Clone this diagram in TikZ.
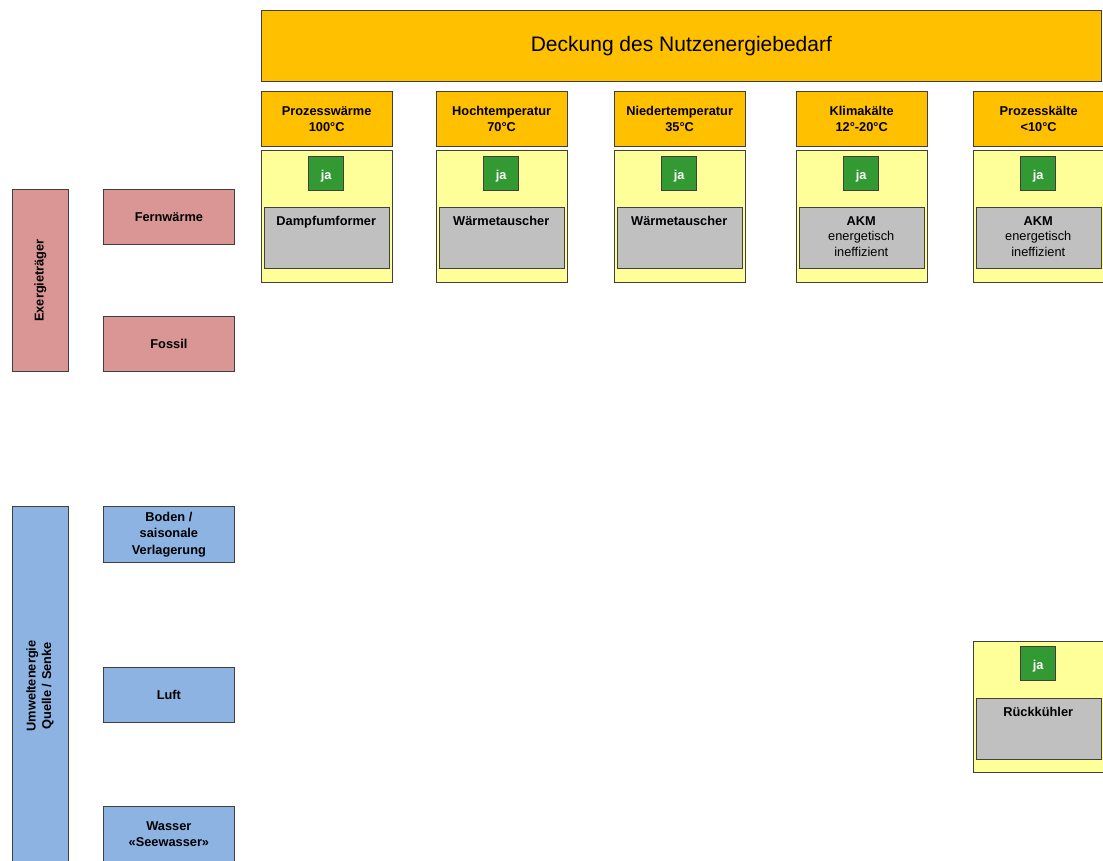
\documentclass[tikz,border=0pt]{standalone}
\usepackage{fontspec}
\setmainfont{Liberation Sans}
\newcommand\boxfont{\fontsize{12.8}{15.5}\selectfont}
\definecolor{hdrorange}{HTML}{FFC000}
\definecolor{paleyellow}{HTML}{FFFF99}
\definecolor{okgreen}{HTML}{339933}
\definecolor{techgray}{HTML}{C0C0C0}
\definecolor{exred}{HTML}{D99694}
\definecolor{envblue}{HTML}{8DB3E2}
\definecolor{edge}{HTML}{404040}
\begin{document}
\begin{tikzpicture}[x=1pt,y=-1pt,
  box/.style={draw=edge,line width=0.8pt,anchor=north west,inner sep=0pt,
              align=center,font=\boxfont\bfseries},
  hdr/.style={box,fill=hdrorange,minimum width=130.5pt,minimum height=55pt},
  panel/.style={box,fill=paleyellow,minimum width=130.5pt,minimum height=131.5pt},
  okbox/.style={draw=edge,line width=0.8pt,fill=okgreen,minimum width=35pt,
                minimum height=34pt,inner sep=0pt,text=white,text height=12.4pt,
                text depth=0pt,font=\boxfont\bfseries},
  techbox/.style={box,fill=techgray,minimum width=125.5pt,minimum height=61pt},
  techtext/.style={anchor=north,inner sep=0pt,align=center,font=\boxfont},
  redbox/.style={box,fill=exred},
  bluebox/.style={box,fill=envblue},
  side/.style={minimum width=131pt},
  bar/.style={minimum width=56pt}]
\useasboundingbox (0,0) rectangle (1103,861);
\clip (0,0) rectangle (1103,861);
\fill[white] (0,0) rectangle (1103,861);

% overall demand
\node[box,fill=hdrorange,minimum width=840pt,minimum height=71pt,
      font=\fontsize{21}{25}\selectfont] (title) at (261,10) {Deckung des Nutzenergiebedarf};

% demand columns: header, panel, approval mark, technology
\foreach \i/\x/\head/\tech in {
   1/261/{Prozesswärme\\100°C}/{\textbf{Dampfumformer}},
   2/436/{Hochtemperatur\\70°C}/{\textbf{Wärmetauscher}},
   3/614/{Niedertemperatur\\35°C}/{\textbf{Wärmetauscher}},
   4/796/{Klimakälte\\12°-20°C}/{\textbf{AKM}\\energetisch\\ineffizient},
   5/973/{Prozesskälte\\<10°C}/{\textbf{AKM}\\energetisch\\ineffizient}} {
  \node[hdr] (h\i) at (\x,91) {\head};
  \node[panel] (p\i) at (\x,150) {};
  \node[okbox] (ok\i) at (\x+65.25,173) {ja};
  \node[techbox] (t\i) at (\x+2.5,207) {};
  \node[techtext] (tt\i) at (\x+65.25,216) {\tech};
}

% re-cooling panel under process cooling
\node[panel,minimum height=130.5pt] (pr) at (973,641) {};
\node[okbox] (okr) at (1038.25,663.5) {ja};
\node[techbox] (tr) at (975.5,698) {};
\node[techtext] (ttr) at (1038.25,707) {\textbf{Rückkühler}};

% exergy carriers
\node[redbox,bar,minimum height=182pt] (ex) at (12,189) {};
\node[rotate=90,font=\boxfont\bfseries] (exl) at (ex.center) {Exergieträger};
\node[redbox,side,minimum height=55pt] (fw) at (103,189) {Fernwärme};
\node[redbox,side,minimum height=55pt] (fo) at (103,316) {Fossil};

% environmental sources / sinks
\node[bluebox,bar,minimum height=360pt] (env) at (12,506) {};
\node[rotate=90,align=center,font=\boxfont\bfseries] (envl) at (40,686)
     {Umweltenergie\\Quelle / Senke};
\node[bluebox,side,minimum height=56pt,font=\fontsize{12.8}{16.5}\selectfont\bfseries]
     (bo) at (103,506) {Boden /\\saisonale\\Verlagerung};
\node[bluebox,side,minimum height=55pt] (lu) at (103,667) {Luft};
\node[bluebox,side,minimum height=56pt] (wa) at (103,806) {Wasser\\«Seewasser»};
\end{tikzpicture}
\end{document}
